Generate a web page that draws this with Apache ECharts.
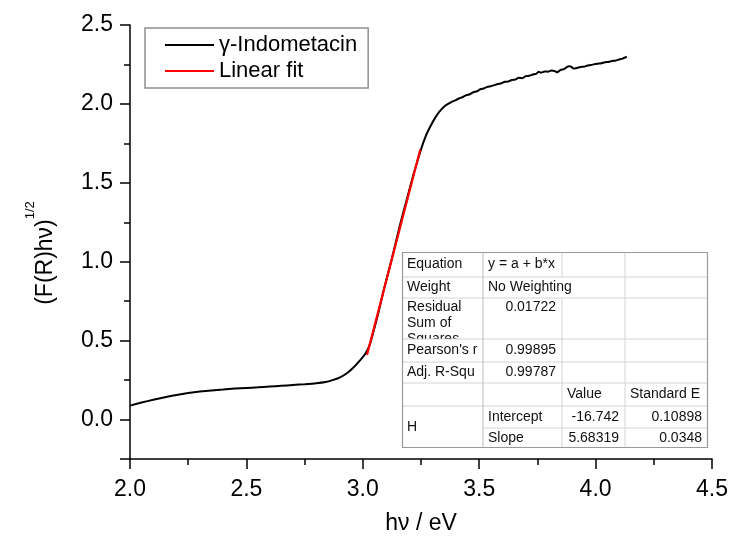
<!DOCTYPE html>
<html>
<head>
<meta charset="utf-8">
<script src="https://cdn.jsdelivr.net/npm/echarts@6/dist/echarts.min.js"></script>
<style>
  html, body { margin: 0; padding: 0; background: #fff; }
  #chart { width: 732px; height: 546px; }
</style>
</head>
<body>
<div id="chart"></div>
<script>
// Photon energy (eV) and Kubelka-Munk transformed reflectance (F(R)hν)^1/2
const energyEv = [
  2.00, 2.05, 2.10, 2.15, 2.20, 2.25, 2.30, 2.35, 2.40, 2.45,
  2.50, 2.55, 2.60, 2.65, 2.70, 2.75, 2.80, 2.84, 2.87, 2.90,
  2.93, 2.96, 2.99, 3.01, 3.03, 3.05, 3.07, 3.09, 3.11, 3.13,
  3.16, 3.19, 3.22, 3.25, 3.27, 3.29, 3.31, 3.33, 3.355, 3.38,
  3.40, 3.415, 3.43, 3.445, 3.46, 3.475, 3.49, 3.505, 3.52, 3.535,
  3.55, 3.565, 3.58, 3.595, 3.61, 3.625, 3.64, 3.655, 3.67, 3.685,
  3.70, 3.715, 3.73, 3.745, 3.755, 3.765, 3.78, 3.795, 3.81, 3.825,
  3.835, 3.85, 3.865, 3.875, 3.885, 3.895, 3.905, 3.92, 3.935, 3.95,
  3.965, 3.98, 3.995, 4.01, 4.025, 4.04, 4.055, 4.07, 4.085, 4.10,
  4.115, 4.134
];
const sqrtFRhv = [
  0.088, 0.108, 0.125, 0.141, 0.156, 0.168, 0.177, 0.184, 0.190, 0.196,
  0.200, 0.204, 0.209, 0.214, 0.219, 0.224, 0.230, 0.238, 0.250, 0.266,
  0.292, 0.330, 0.378, 0.415, 0.475, 0.580, 0.695, 0.820, 0.935, 1.050,
  1.235, 1.400, 1.565, 1.712, 1.795, 1.857, 1.910, 1.952, 1.990, 2.012,
  2.024, 2.036, 2.044, 2.056, 2.061, 2.074, 2.080, 2.093, 2.098, 2.108,
  2.112, 2.119, 2.126, 2.131, 2.140, 2.142, 2.151, 2.154, 2.165, 2.163,
  2.176, 2.178, 2.186, 2.190, 2.204, 2.197, 2.206, 2.204, 2.212, 2.208,
  2.200, 2.216, 2.220, 2.232, 2.238, 2.236, 2.224, 2.228, 2.234, 2.236,
  2.243, 2.246, 2.252, 2.255, 2.258, 2.264, 2.266, 2.272, 2.274, 2.281,
  2.287, 2.299
];

// Linear fit of the absorption edge: y = a + b*x
const fitIntercept = -16.742;
const fitSlope = 5.68319;
const fitEnergyRange = [3.018, 3.247];

// Axis ticks
const xTickValues = [2.0, 2.5, 3.0, 3.5, 4.0, 4.5];
const yTickValues = [0.0, 0.5, 1.0, 1.5, 2.0, 2.5];
const yMin = -0.25;

// Fit report
const fitTableRows = [
  ['Equation', 'y = a + b*x', '', ''],
  ['Weight', 'No Weighting', '', ''],
  ['Residual\nSum of\nSquares', '0.01722', '', ''],
  ["Pearson's r", '0.99895', '', ''],
  ['Adj. R-Squ', '0.99787', '', ''],
  ['', '', 'Value', 'Standard E'],
  ['H', 'Intercept', String(fitIntercept), '0.10898'],
  ['', 'Slope', String(fitSlope), '0.0348']
];

const FONT = '"Liberation Sans", Arial, sans-serif';

const spectrum = energyEv.map((e, i) => [e, sqrtFRhv[i]]);
const fitLine = fitEnergyRange.map(e => [e, fitIntercept + fitSlope * e]);

// ---- fit report table drawn as graphic elements ----
const colX = [402, 483, 562, 625, 708];
const rowY = [252, 277, 298, 339, 362, 383, 406, 428, 448];
const rowSpan = { '6,0': 2 };
const tableEls = [];
tableEls.push({
  type: 'rect',
  shape: { x: colX[0], y: rowY[0], width: colX[4] - colX[0], height: rowY[8] - rowY[0] },
  style: { fill: '#fff' }
});
fitTableRows.forEach((row, r) => {
  const top = rowY[r];
  if (r === 3) {
    // the three-line "Residual Sum of Squares" caption is cut at this row
    tableEls.push({
      type: 'rect',
      shape: { x: colX[0] + 1, y: top, width: colX[4] - colX[0] - 2, height: rowY[r + 1] - top },
      style: { fill: '#fff' }
    });
  }
  row.forEach((txt, c) => {
    if (!txt) return;
    const span = rowSpan[r + ',' + c] || 1;
    const bottom = rowY[r + span];
    const numeric = /^-?\d+(\.\d+)?$/.test(txt);
    const multiLine = r === 2;
    tableEls.push({
      type: 'text',
      x: numeric ? colX[c + 1] - 6 : colX[c] + 5,
      y: multiLine ? top + 1 : (top + bottom) / 2,
      style: {
        text: txt,
        font: '14px ' + FONT,
        fill: '#111',
        lineHeight: 16,
        align: numeric ? 'right' : 'left',
        verticalAlign: multiLine ? 'top' : 'middle'
      }
    });
  });
});
// inner grid lines
const innerColor = '#d4d4d4';
for (let r = 1; r < rowY.length - 1; r++) {
  const x1 = r === 7 ? colX[1] : colX[0];
  tableEls.push({
    type: 'line',
    shape: { x1: x1, y1: rowY[r], x2: colX[4], y2: rowY[r] },
    style: { stroke: innerColor, lineWidth: 1 }
  });
}
for (let c = 1; c < colX.length - 1; c++) {
  if (c === 2) {
    tableEls.push({ type: 'line', shape: { x1: colX[c], y1: rowY[0], x2: colX[c], y2: rowY[1] }, style: { stroke: innerColor, lineWidth: 1 } });
    tableEls.push({ type: 'line', shape: { x1: colX[c], y1: rowY[2], x2: colX[c], y2: rowY[8] }, style: { stroke: innerColor, lineWidth: 1 } });
  } else {
    tableEls.push({ type: 'line', shape: { x1: colX[c], y1: rowY[0], x2: colX[c], y2: rowY[8] }, style: { stroke: c === 1 ? '#bdbdbd' : innerColor, lineWidth: 1 } });
  }
}
tableEls.push({
  type: 'rect',
  shape: { x: colX[0] + 0.5, y: rowY[0] + 0.5, width: colX[4] - colX[0] - 1, height: rowY[8] - rowY[0] - 1 },
  style: { fill: null, stroke: '#9a9a9a', lineWidth: 1.2 }
});

const isTick = (v, list) => list.some(t => Math.abs(t - v) < 1e-6);

const chart = echarts.init(document.getElementById('chart'));
chart.setOption({
  animation: false,
  backgroundColor: '#fff',
  textStyle: { fontFamily: FONT },
  grid: { left: 130, right: 20, top: 25, bottom: 87, containLabel: false, outerBoundsMode: 'none' },
  legend: {
    data: ['γ-Indometacin', 'Linear fit'],
    orient: 'vertical',
    left: 145,
    top: 28,
    icon: 'rect',
    itemWidth: 49,
    itemHeight: 2,
    itemGap: 4,
    padding: [6, 11, 6, 20],
    backgroundColor: '#fff',
    borderColor: '#8f8f8f',
    borderWidth: 1.5,
    borderRadius: 0,
    textStyle: { fontSize: 22, color: '#000', fontFamily: FONT }
  },
  xAxis: {
    type: 'value',
    min: xTickValues[0],
    max: xTickValues[xTickValues.length - 1],
    interval: 0.5,
    name: 'hν / eV',
    nameLocation: 'middle',
    nameGap: 53,
    nameTextStyle: { fontSize: 23, color: '#000', fontFamily: FONT },
    axisLine: { onZero: false, lineStyle: { color: '#000', width: 1.5 } },
    axisTick: { show: true, inside: false, length: 10, lineStyle: { color: '#000', width: 1.5 } },
    minorTick: { show: true, splitNumber: 2, length: 6, lineStyle: { color: '#000', width: 1.5 } },
    axisLabel: {
      fontSize: 23, color: '#000', margin: 19, fontFamily: FONT,
      formatter: v => v.toFixed(1)
    },
    splitLine: { show: false }
  },
  yAxis: [
    {
      type: 'value',
      min: yMin,
      max: yTickValues[yTickValues.length - 1],
      interval: 0.25,
      name: '{n|(F(R)hν)}{s|1/2}',
      nameLocation: 'middle',
      nameGap: 63,
      nameRotate: 90,
      nameTextStyle: {
        color: '#000',
        rich: {
          n: { fontSize: 23, fontFamily: FONT, color: '#000' },
          s: { fontSize: 13, fontFamily: FONT, color: '#000', padding: [0, 22, 30, 0] }
        }
      },
      axisLine: { onZero: false, lineStyle: { color: '#000', width: 1.5 } },
      axisTick: { show: true, inside: false, length: 6, lineStyle: { color: '#000', width: 1.5 } },
      axisLabel: {
        fontSize: 23, color: '#000', margin: 17, fontFamily: FONT,
        formatter: v => isTick(v, yTickValues) ? v.toFixed(1) : ''
      },
      splitLine: { show: false }
    },
    {
      type: 'value',
      min: yMin,
      max: yTickValues[yTickValues.length - 1],
      interval: 0.25,
      position: 'left',
      axisLine: { show: false },
      axisTick: {
        show: true, inside: false, length: 10,
        customValues: [yMin].concat(yTickValues),
        lineStyle: { color: '#000', width: 1.5 }
      },
      axisLabel: { show: false },
      splitLine: { show: false }
    }
  ],
  series: [
    {
      name: 'γ-Indometacin',
      type: 'line',
      data: spectrum,
      showSymbol: false,
      smooth: 0.15,
      color: '#000',
      lineStyle: { color: '#000', width: 2 },
      z: 2
    },
    {
      name: 'Linear fit',
      type: 'line',
      data: fitLine,
      showSymbol: false,
      color: '#ff0000',
      lineStyle: { color: '#ff0000', width: 2.2 },
      z: 3
    }
  ],
  graphic: [{ type: 'group', children: tableEls }]
});
</script>
</body>
</html>
